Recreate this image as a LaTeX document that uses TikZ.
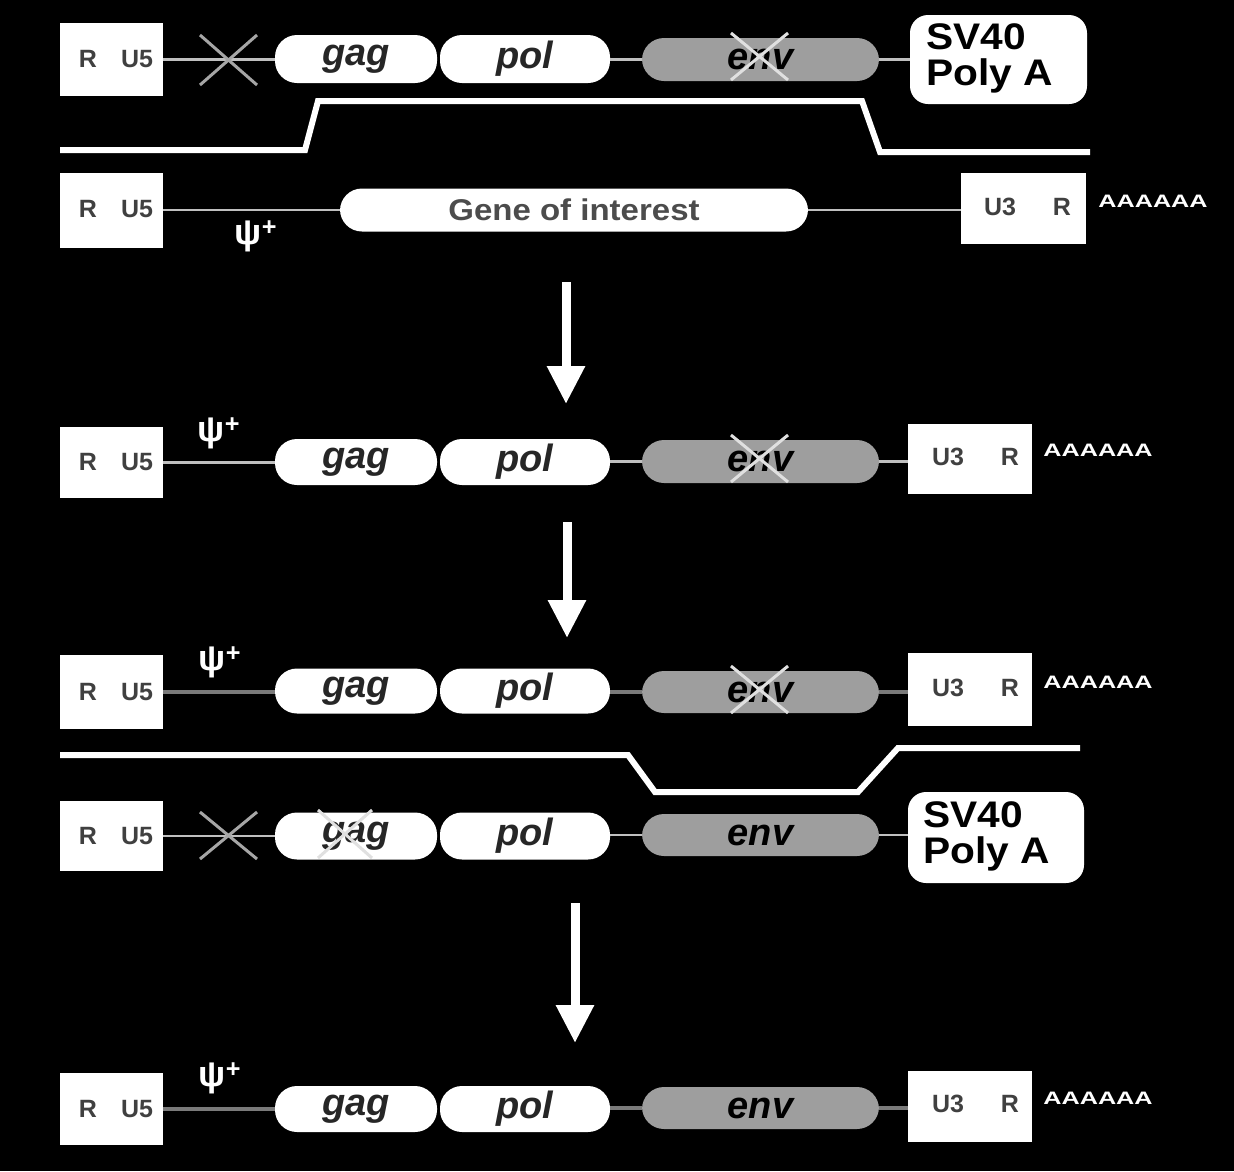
\documentclass[tikz,border=0pt]{standalone}
\usepackage{fontspec}
\setmainfont{Liberation Sans}
\usetikzlibrary{arrows.meta}
\begin{document}
\begin{tikzpicture}[x=1pt,y=-1pt,
  ltr/.style={fill=white, minimum width=103pt, inner sep=0pt},
  ltrtxt/.style={font=\fontsize{25}{25}\selectfont\bfseries, text=black!75, inner sep=0pt},
  pill/.style={fill=white, rounded corners=22pt, inner sep=0pt,
    font=\fontsize{38}{38}\selectfont\bfseries\itshape, text=black!85},
  envpill/.style={pill, fill=black!38, minimum width=237pt, text=black},
  wire/.style={draw=black!25, line width=2.5pt},
  wired/.style={draw=black!52, line width=3.5pt},
  knockout/.style={draw=black!35, line width=3pt},
  xover/.style={draw=black!12, line width=3pt},
  polyA/.style={fill=white, rounded corners=18pt, minimum width=177pt, minimum height=89pt, inner sep=0pt},
  polytxt/.style={anchor=west, inner sep=0pt, font=\fontsize{37}{33}\selectfont\bfseries},
  psilabel/.style={font=\fontsize{36}{36}\selectfont\bfseries, text=white, inner sep=0pt},
  polytail/.style={font=\fontsize{18}{18}\selectfont\bfseries, text=white, inner sep=0pt},
  bigarrow/.style={draw=white, line width=9pt, -{Triangle[width=36pt,length=38pt]}},
  railline/.style={draw=white, line width=6pt, line join=miter},
]
% background and page size
\fill[black] (0,0) rectangle (1234,1171);
\useasboundingbox (0,0) rectangle (1234,1171);

% ---------- row 1: packaging-deficient helper (env deleted, SV40 poly A) ----------
\node[ltr, minimum height=73pt] (r1) at (111.5,59.5) {};
\node[ltrtxt] at (88,59) {R};
\node[ltrtxt] at (137,59) {U5};
\node[pill, minimum width=162pt, minimum height=48pt] (g1) at (356,59) {gag};
\node[pill, minimum width=170pt, minimum height=48pt] (p1) at (525,59) {pol};
\node[envpill, minimum height=43pt] (e1) at (760.5,59.5) {env};
\node[polyA] (s1) at (998.5,59.5) {};
\node[polytxt] at (926,59.5) {\scalebox{1.1}[1]{\begin{tabular}{@{}l@{}}SV40\\Poly A\end{tabular}}};
\draw[wire] (r1.east) -- (r1.east -| g1.west);
\draw[wire] (e1.west -| p1.east) -- (e1.west);
\draw[wire] (e1.east) -- (e1.east -| s1.west);
\draw[knockout] (200,35) -- (257,85) (200,85) -- (257,35);
\draw[xover] (731,33) -- (788,80) (731,80) -- (788,33);

\draw[railline] (60,150) -- (305,150) -- (318,101) -- (862,101) -- (880,152) -- (1090,152);

% ---------- row 2: vector carrying the gene of interest ----------
\node[ltr, minimum height=75pt] (r2) at (111.5,210) {};
\node[ltrtxt] at (88,209) {R};
\node[ltrtxt] at (137,209) {U5};
\node[pill, minimum width=468pt, minimum height=43pt,
      font=\fontsize{30}{30}\selectfont\bfseries, text=black!70] (goi) at (574,210) {\scalebox{1.1}[1]{Gene of interest}};
\node[ltr, minimum width=125pt, minimum height=71pt] (u2) at (1023.5,208) {};
\node[ltrtxt] at (1000,207) {U3};
\node[ltrtxt] at (1062,207) {R};
\node[polytail] (t2) at (1153,201) {\scalebox{1.4}[1]{AAAAAA}};
\node[psilabel] (psi2) at (256,236) {ψ\textsuperscript{+}};
\draw[wire] (r2.east) -- (goi.west);
\draw[wire] (goi.east) -- (goi.east -| u2.west);

\coordinate (a1s) at (566,282);
\coordinate (a1e) at (566,404);
\draw[bigarrow] (a1s) -- (a1e);

% ---------- row 3 ----------
\node[ltr, minimum height=71pt] (r3) at (111.5,462.5) {};
\node[ltrtxt] at (88,462) {R};
\node[ltrtxt] at (137,462) {U5};
\node[pill, minimum width=162pt, minimum height=46pt] (g3) at (356,462) {gag};
\node[pill, minimum width=170pt, minimum height=46pt] (p3) at (525,462) {pol};
\node[envpill, minimum height=43pt] (e3) at (760.5,461.5) {env};
\node[ltr, minimum width=124pt, minimum height=70pt] (u3) at (970,459) {};
\node[ltrtxt] at (948,457) {U3};
\node[ltrtxt] at (1010,457) {R};
\node[polytail] (t3) at (1098,450) {\scalebox{1.4}[1]{AAAAAA}};
\node[psilabel] (psi3) at (219,433) {ψ\textsuperscript{+}};
\draw[wire] (r3.east) -- (r3.east -| g3.west);
\draw[wire] (e3.west -| p3.east) -- (e3.west);
\draw[wire] (e3.east) -- (e3.east -| u3.west);
\draw[xover] (731,435) -- (788,482) (731,482) -- (788,435);

\coordinate (a2s) at (567,522);
\coordinate (a2e) at (567,638);
\draw[bigarrow] (a2s) -- (a2e);

% ---------- row 4 ----------
\node[ltr, minimum height=74pt] (r4) at (111.5,692) {};
\node[ltrtxt] at (88,692) {R};
\node[ltrtxt] at (137,692) {U5};
\node[pill, minimum width=162pt, minimum height=45pt] (g4) at (356,691) {gag};
\node[pill, minimum width=170pt, minimum height=45pt] (p4) at (525,691) {pol};
\node[envpill, minimum height=42pt] (e4) at (760.5,692) {env};
\node[ltr, minimum width=124pt, minimum height=73pt] (u4) at (970,689) {};
\node[ltrtxt] at (948,688) {U3};
\node[ltrtxt] at (1010,688) {R};
\node[polytail] (t4) at (1098,682) {\scalebox{1.4}[1]{AAAAAA}};
\node[psilabel] (psi4) at (220,662) {ψ\textsuperscript{+}};
\draw[wired] (r4.east) -- (r4.east -| g4.west);
\draw[wired] (e4.west -| p4.east) -- (e4.west);
\draw[wired] (e4.east) -- (e4.east -| u4.west);
\draw[xover] (731,666) -- (788,713) (731,713) -- (788,666);

\draw[railline] (60,755) -- (628,755) -- (655,792) -- (858,792) -- (898,748) -- (1080,748);

% ---------- row 5: envelope helper (gag disrupted, SV40 poly A) ----------
\node[ltr, minimum height=70pt] (r5) at (111.5,836) {};
\node[ltrtxt] at (88,836) {R};
\node[ltrtxt] at (137,836) {U5};
\node[pill, minimum width=162pt, minimum height=47pt] (g5) at (356,836) {gag};
\node[pill, minimum width=170pt, minimum height=47pt] (p5) at (525,836) {pol};
\node[envpill, minimum height=42pt] (e5) at (760.5,835) {env};
\node[polyA, minimum width=176pt, minimum height=91pt] (s5) at (996,837.5) {};
\node[polytxt] at (923,837.5) {\scalebox{1.1}[1]{\begin{tabular}{@{}l@{}}SV40\\Poly A\end{tabular}}};
\draw[wire] (r5.east) -- (r5.east -| g5.west);
\draw[wire] (e5.west -| p5.east) -- (e5.west);
\draw[wire] (e5.east) -- (e5.east -| s5.west);
\draw[knockout] (200,812) -- (257,859) (200,859) -- (257,812);
\draw[xover] (318,810) -- (372,858) (318,858) -- (372,810);

\coordinate (a3s) at (575,903);
\coordinate (a3e) at (575,1043);
\draw[bigarrow] (a3s) -- (a3e);

% ---------- row 6: packaged vector ----------
\node[ltr, minimum height=72pt] (r6) at (111.5,1109) {};
\node[ltrtxt] at (88,1109) {R};
\node[ltrtxt] at (137,1109) {U5};
\node[pill, minimum width=162pt, minimum height=46pt] (g6) at (356,1109) {gag};
\node[pill, minimum width=170pt, minimum height=46pt] (p6) at (525,1109) {pol};
\node[envpill, minimum height=42pt] (e6) at (760.5,1108) {env};
\node[ltr, minimum width=124pt, minimum height=71pt] (u6) at (970,1106) {};
\node[ltrtxt] at (948,1104) {U3};
\node[ltrtxt] at (1010,1104) {R};
\node[polytail] (t6) at (1098,1098) {\scalebox{1.4}[1]{AAAAAA}};
\node[psilabel] (psi6) at (220,1078) {ψ\textsuperscript{+}};
\draw[wired] (r6.east) -- (r6.east -| g6.west);
\draw[wired] (e6.west -| p6.east) -- (e6.west);
\draw[wired] (e6.east) -- (e6.east -| u6.west);
\end{tikzpicture}
\end{document}
